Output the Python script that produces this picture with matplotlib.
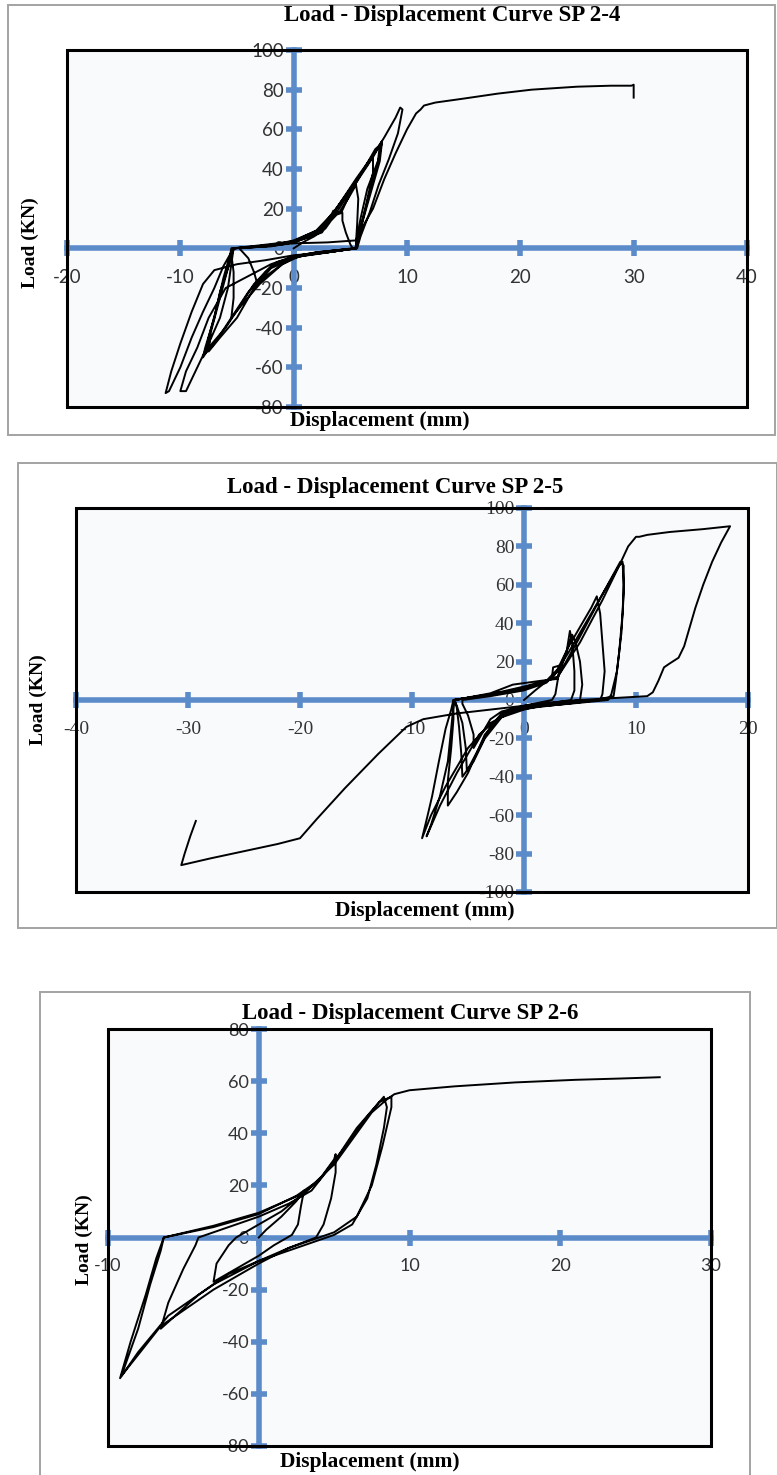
import matplotlib.pyplot as plt
from matplotlib.patches import Rectangle

plt.rcParams["axes.unicode_minus"] = False

W, H = 777, 1475
BLUE = "#5b8bc9"
BG = "#f9fafc"

# ---- SP 2-4 ----
sp24_pts = [
    (0, 0), (0.8, 3), (1.8, 6), (2.8, 10), (3.3, 14), (3.8, 17), (4.3, 18),
    (4.3, 14), (4.6, 8), (5.0, 2), (5.2, 0), (3, -1.5), (1, -3), (0, -5), (-1, -8), (-2.2, -13), (-3.2, -18),
    (-3.5, -12), (-4, -5), (-4.8, 0),
    (-2.5, 1), (0, 3), (1.5, 6), (2.8, 12), (3.3, 17), (4, 18), (4.8, 25), (5.5, 32),
    (5.7, 25), (5.6, 12), (5.5, 3), (5.5, 0), (3, -2), (0.5, -4), (-1, -8), (-3, -18), (-4.5, -28), (-5.5, -35),
    (-5.3, -25), (-5.3, -12), (-5.5, -3), (-5.3, 0),
    (-3, 1), (0, 3), (2, 8), (3.5, 18), (5, 30), (6.2, 40), (7, 47),
    (7, 38), (6.4, 22), (5.8, 8), (5.5, 0), (2, -2), (0, -5), (-2, -10), (-3.5, -20), (-5, -35), (-6.5, -45), (-7.5, -52),
    (-7.3, -42), (-6.5, -25), (-5.8, -10), (-5.3, 0),
    (-2, 1.5), (0, 4), (2.5, 10), (4, 22), (5.5, 35), (7, 47), (7.8, 54),
    (7.6, 44), (6.8, 28), (6, 12), (5.5, 2), (5.5, 0), (3, -2), (0, -4), (-2, -9), (-3.5, -18), (-4.5, -27),
    (-6, -40), (-7.2, -48), (-8, -55),
    (-7.8, -50), (-7, -35), (-6.5, -22), (-5.8, -10), (-5.5, 0),
    (-2, 1), (0, 3), (2.5, 8), (3.2, 15), (3.5, 19), (4.2, 18), (5, 28), (6.2, 40), (7.2, 50), (7.6, 52),
    (7.4, 42), (6.6, 26), (6, 12), (5.7, 4), (5.4, 0), (2.5, -2.5), (0, -4.5), (-1.5, -7), (-2.5, -12),
    (-4, -22), (-5.5, -35), (-7, -48), (-7.8, -53),
    (-7.5, -45), (-6.8, -30), (-6.2, -15), (-5.7, -5), (-5.4, 0),
    (-3, 1.5), (0, 3.5), (2, 9), (3.5, 18), (5, 30), (6.5, 42), (8, 56), (9, 66), (9.4, 71),
    (9.6, 70), (9.2, 58), (8.4, 45), (7.5, 32), (6.7, 18), (5.9, 6), (5.6, 0), (3, -2), (0, -3.5), (-2.5, -6),
    (-5, -8), (-7, -11), (-8, -18), (-9, -32), (-10, -48), (-10.8, -62), (-11.3, -73),
    (-11, -72), (-10, -60), (-9, -45), (-8, -32), (-7, -20), (-6.2, -9), (-5.5, -2), (-5.2, 0),
    (-2.5, 1.5), (0, 3), (2.5, 9), (4, 20), (5.5, 33), (7, 46), (7.8, 54),
    (7.5, 45), (6.5, 30), (5.9, 15), (5.5, 3), (5.5, 0), (2, -2), (0, -4), (-2, -8), (-4, -14), (-6, -20),
    (-7.5, -35), (-8.5, -50), (-9.5, -62), (-10, -72),
    (-9.5, -72), (-8.5, -60), (-7.5, -48), (-6.5, -35), (-5.8, -20), (-5.5, -8), (-5.3, 0),
    (-2.5, 1), (0, 2.5), (3, 3), (5.5, 4), (6, 10), (7, 20), (8, 35), (9, 48), (10, 60), (10.8, 68),
    (11.2, 70), (11.5, 72), (12.5, 73.5), (15, 75.5), (18, 78), (21, 80), (25, 81.5), (28, 82),
    (29.8, 82), (30, 82.5), (30, 76),
]
sp24_xticks = [-20, -10, 0, 10, 20, 30, 40]
sp24_yticks = [-80, -60, -40, -20, 0, 20, 40, 60, 80, 100]

# ---- SP 2-5 ----
sp25_pts = [
    (0, 0), (1, 5), (2.5, 12), (2.6, 17), (3.2, 18), (3.0, 10), (2.8, 3), (2.5, 0), (0, -3), (-2, -6),
    (-3, -10), (-4, -20), (-4.5, -25),
    (-4.5, -18), (-5, -8), (-5.5, -2), (-5.5, 0),
    (-3, 2), (0, 5), (2, 9), (3, 15), (3.8, 25), (4.1, 36), (4.3, 30), (4.5, 15), (4.5, 5), (4.2, 0),
    (2, -2), (0, -4), (-2, -7), (-3, -14), (-4, -25), (-5.1, -37),
    (-5.2, -25), (-5.5, -12), (-6, -3), (-6.2, 0),
    (-3, 3.5), (-1, 8), (1.5, 10), (3, 11), (3.5, 20), (4.3, 34), (4.6, 30), (5, 20), (5.2, 8), (5, 0),
    (2, -2.5), (0, -5), (-2, -9), (-3.5, -20), (-4.5, -32), (-5.5, -40),
    (-5.6, -28), (-5.8, -14), (-6, -4), (-6.2, 0),
    (-3, 3), (0, 6), (2, 10), (3, 16), (4, 28), (5, 38), (6, 48), (6.5, 54), (6.8, 45), (7, 30), (7.2, 15),
    (7, 3), (6.8, 0), (3, -2), (0, -4), (-2, -8), (-3.5, -18), (-5, -38), (-6, -48), (-6.8, -55),
    (-6.8, -42), (-6.5, -25), (-6.3, -10), (-6.3, 0),
    (-3, 3), (0, 7), (2.5, 11), (4, 25), (5.5, 40), (7, 55), (8.6, 72), (8.9, 70), (8.9, 55), (8.7, 35),
    (8.3, 15), (7.8, 3), (7.5, 0), (4, -2), (1, -3.5), (-1, -6), (-3, -12), (-5, -25), (-7, -45),
    (-8.3, -60), (-9.1, -72),
    (-8.6, -60), (-8.2, -50), (-7.6, -32), (-7, -15), (-6.5, -5), (-6.3, 0),
    (-3, 3), (0, 6), (3, 12), (5, 33), (7, 55), (8.5, 70), (8.8, 72), (8.9, 60), (8.8, 45), (8.5, 25),
    (8.2, 10), (8, 2), (6, -0.5), (3, -2.5), (0, -4.5), (-2, -8), (-4, -18), (-6, -38), (-7.5, -55), (-8.7, -71),
    (-8.3, -65), (-7.5, -50), (-6.8, -32), (-6.5, -15), (-6.3, -3), (-6.2, 0),
    (-3, 3), (0, 6), (3, 12), (5, 30), (7, 52), (8.5, 70), (9.3, 80), (10, 85), (10.3, 85), (11, 86),
    (13, 87.5), (16, 89), (18.4, 90.5),
    (17.6, 82), (16.8, 72), (16, 60), (15.3, 48), (14.8, 38), (14.3, 28), (13.8, 22), (13, 19), (12.5, 17),
    (12, 10), (11.5, 4), (11, 2), (8, 1), (5, 0), (2, -1.5), (0, -3), (-3, -5), (-6, -7), (-9, -10),
    (-10.5, -14), (-13, -28), (-16, -46), (-18.5, -62), (-20, -72), (-22, -75), (-24, -77.5), (-26, -80),
    (-28, -82.5), (-30.6, -86), (-30.3, -80), (-29.8, -71), (-29.3, -63),
]
sp25_xticks = [-40, -30, -20, -10, 0, 10, 20]
sp25_yticks = [-100, -80, -60, -40, -20, 0, 20, 40, 60, 80, 100]

# ---- SP 2-6 ----
sp26_pts = [
    (0, 0), (0.5, 3), (1.5, 8), (2.5, 14), (3, 18), (2.8, 12), (2.6, 5), (2.2, 1), (1, -3), (0, -7),
    (-1.5, -12), (-3, -17),
    (-2.8, -10), (-2, -3), (-1.5, 0),
    (0, 5), (1.5, 10), (3, 17), (4, 22), (5, 30), (5.1, 32), (5.1, 25), (4.8, 15), (4.3, 5), (3.8, 0),
    (2, -4), (0, -9), (-2, -14), (-4, -22), (-6.5, -35),
    (-6, -25), (-5, -12), (-4.2, -3), (-4, 0),
    (-2, 4), (0, 8), (2, 13), (3.5, 18), (5, 29), (6.5, 42), (8.3, 54),
    (8.5, 50), (8.3, 42), (7.8, 28), (7.2, 15), (6.2, 5), (5, 1), (3, -3), (0, -9), (-3, -18), (-6, -30),
    (-8, -44), (-9.2, -54),
    (-8.5, -40), (-7.5, -22), (-6.8, -8), (-6.3, 0),
    (-3, 4), (0, 9), (2.5, 16), (4, 22), (5.5, 33), (7, 45), (8, 52), (8.8, 54),
    (8.8, 50), (8.2, 35), (7.5, 20), (6.5, 8), (5, 2), (2, -4), (0, -10), (-3, -20), (-6.5, -34), (-8, -45),
    (-9.1, -53),
    (-8.8, -48), (-8, -35), (-7.2, -18), (-6.5, -5), (-6.3, 0),
    (-3, 4.5), (0, 9.5), (3, 17), (5, 28), (6.5, 40), (7.5, 48), (8.5, 53), (9, 55), (10, 56.5), (13, 58),
    (17, 59.5), (21, 60.5), (24, 61), (26.6, 61.5),
]
sp26_xticks = [-10, 0, 10, 20, 30]
sp26_yticks = [-80, -60, -40, -20, 0, 20, 40, 60, 80]

fig = plt.figure(figsize=(W / 100, H / 100), dpi=100)


def fx(x):
    return x / W


def fy(y):
    return 1 - y / H


def panel(frame, border, pts, xticks, yticks, title, title_xy, ylab_xy, xlab_xy,
          tick_family, tick_size, hide_x0=False):
    l, t, r, b = border
    fig.patches.append(Rectangle((fx(l), fy(b)), (r - l) / W, (b - t) / H,
                                 transform=fig.transFigure, fill=False,
                                 ec="#a3a3a3", lw=1.4))
    l, t, r, b = frame
    ax = fig.add_axes([fx(l), fy(b), (r - l) / W, (b - t) / H])
    ax.set_facecolor(BG)

    xs = [p[0] for p in pts]
    ys = [p[1] for p in pts]
    ax.plot(xs, ys, color="black", lw=1.4, zorder=4, solid_joinstyle="round")
    ax.set_xlim(xticks[0], xticks[-1])
    ax.set_ylim(yticks[0], yticks[-1])

    ax.spines["top"].set_visible(False)
    ax.spines["right"].set_visible(False)
    for s in ["left", "bottom"]:
        ax.spines[s].set_position(("data", 0))
        ax.spines[s].set_color(BLUE)
        ax.spines[s].set_linewidth(4)
    ax.set_xticks(xticks)
    ax.set_yticks(yticks)
    ax.set_xticklabels(["" if (hide_x0 and v == 0) else str(v) for v in xticks])
    ax.tick_params(direction="inout", length=12, width=4, color=BLUE,
                   labelsize=tick_size, labelcolor="#333333")
    ax.tick_params(axis="x", pad=9)
    ax.tick_params(axis="y", pad=1)
    for lbl in ax.get_xticklabels() + ax.get_yticklabels():
        lbl.set_fontfamily(tick_family)

    ax.add_patch(Rectangle((0, 0), 1, 1, transform=ax.transAxes, fill=False,
                           ec="black", lw=2.2, clip_on=False, zorder=6))

    serif = dict(family="Liberation Serif", weight="bold", color="black",
                 ha="center", va="center")
    fig.text(fx(title_xy[0]), fy(title_xy[1]), title, size=16.5, **serif)
    fig.text(fx(ylab_xy[0]), fy(ylab_xy[1]), "Load (KN)", size=14, rotation=90, **serif)
    fig.text(fx(xlab_xy[0]), fy(xlab_xy[1]), "Displacement (mm)", size=15.5, **serif)
    return ax


panel((67, 50, 747, 407), (8, 5, 775, 435), sp24_pts, sp24_xticks, sp24_yticks,
      "Load - Displacement Curve SP 2-4", (452, 16), (30, 243), (380, 421),
      "Lato", 13.5)
panel((76, 508, 748, 892), (18, 463, 777, 928), sp25_pts, sp25_xticks, sp25_yticks,
      "Load - Displacement Curve SP 2-5", (395, 488), (38, 700), (425, 911),
      "Liberation Serif", 14)
panel((108, 1029, 711, 1446), (40, 992, 750, 1490), sp26_pts, sp26_xticks, sp26_yticks,
      "Load - Displacement Curve SP 2-6", (410, 1013), (84, 1240), (370, 1462),
      "Lato", 13, hide_x0=True)

fig.savefig("out.png", dpi=100, facecolor="white")
